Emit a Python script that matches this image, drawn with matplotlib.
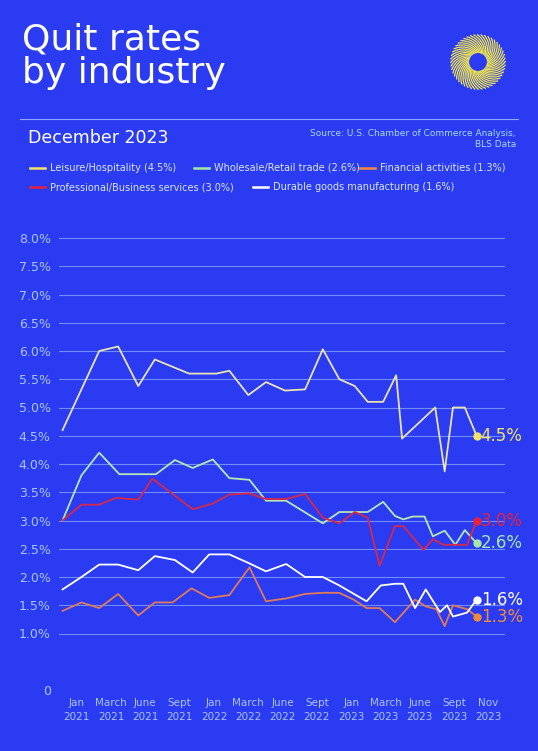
import matplotlib
matplotlib.use("Agg")
import matplotlib.pyplot as plt
import numpy as np

BG = "#2b3bf2"
leisure_x = [0,3.1,4.7,6.4,7.8,10.7,13.0,14.1,15.7,17.2,18.8,20.5,22.0,23.4,24.7,25.8,27.1,28.2,28.7,31.5,32.3,33.0,34.0,35.0]
leisure_y = [4.6,6.0,6.08,5.38,5.85,5.6,5.6,5.65,5.22,5.45,5.3,5.32,6.03,5.5,5.38,5.1,5.1,5.57,4.45,5.0,3.87,5.0,5.0,4.5]
whole_x = [0,1.6,3.1,4.8,7.9,9.5,11.0,12.7,14.1,15.8,17.2,18.9,22.0,23.4,25.8,27.1,28.1,28.8,29.6,30.6,31.3,32.3,33.2,34.0,35]
whole_y = [3.0,3.8,4.2,3.82,3.82,4.07,3.93,4.08,3.75,3.72,3.35,3.35,2.95,3.15,3.15,3.33,3.08,3.02,3.07,3.07,2.72,2.82,2.57,2.83,2.6]
prof_x = [0,1.6,3.1,4.5,6.4,7.6,11.0,12.7,14.1,15.8,17.2,18.9,20.5,22.0,23.4,24.7,25.8,26.8,28.1,28.8,30.5,31.3,32.2,34.2,35]
prof_y = [3.0,3.28,3.28,3.4,3.37,3.74,3.2,3.3,3.46,3.48,3.38,3.38,3.47,3.05,2.95,3.15,3.05,2.2,2.9,2.9,2.48,2.67,2.57,2.57,3.0]
dur_x = [0,1.6,3.1,4.7,6.4,7.8,9.5,11.0,12.4,14.1,15.7,17.2,18.9,20.5,22.0,23.4,25.7,26.9,28.1,28.8,29.8,30.7,31.9,32.5,33.0,34.2,35]
dur_y = [1.78,2.0,2.22,2.22,2.12,2.37,2.3,2.08,2.4,2.4,2.25,2.1,2.23,2.0,2.0,1.85,1.57,1.85,1.88,1.88,1.45,1.78,1.38,1.5,1.3,1.37,1.6]
fin_x = [0,1.6,3.1,4.7,6.4,7.8,9.3,10.9,12.4,14.1,15.8,17.2,18.9,20.5,22.0,23.4,24.6,25.7,26.8,28.1,29.8,30.7,31.6,32.3,33.0,34.2,35]
fin_y = [1.4,1.55,1.45,1.7,1.32,1.55,1.55,1.8,1.63,1.68,2.17,1.57,1.62,1.7,1.72,1.72,1.6,1.45,1.45,1.2,1.6,1.48,1.43,1.13,1.5,1.43,1.3]

tick_labels = ["Jan\n2021","March\n2021","June\n2021","Sept\n2021","Jan\n2022","March\n2022","June\n2022",
               "Sept\n2022","Jan\n2023","March\n2023","June\n2023","Sept\n2023","Nov\n2023"]
yticks = [0,1,1.5,2,2.5,3,3.5,4,4.5,5,5.5,6,6.5,7,7.5,8]

series = [
    ("Leisure/Hospitality (4.5%)", leisure_x, leisure_y, "#f3e36a", "#e9e3b0", "4.5%"),
    ("Wholesale/Retail trade (2.6%)", whole_x, whole_y, "#a6e8a6", "#b5e8b0", "2.6%"),
    ("Financial activities (1.3%)", fin_x, fin_y, "#f08a3c", "#e07a5a", "1.3%"),
    ("Professional/Business services (3.0%)", prof_x, prof_y, "#e8203c", "#d8284a", "3.0%"),
    ("Durable goods manufacturing (1.6%)", dur_x, dur_y, "#ffffff", "#ffffff", "1.6%"),
]

fig = plt.figure(figsize=(5.38, 7.51), dpi=100, facecolor=BG)
ax = fig.add_axes([59/538, 1-690/751, (505-59)/538, (690-226.7)/751])
ax.set_facecolor(BG)
ax.set_xlim(-0.3, 37.4)
ax.set_ylim(0, 8.2)
for y in yticks[1:]:
    ax.axhline(y, color="#6f8df5", lw=0.8, zorder=0)
for name, xs, ys, c, lc, lab in series:
    ax.plot(xs, ys, color=lc, lw=1.3)
    ax.plot(xs[-1], ys[-1], "o", color=c, ms=5)
    ax.text(xs[-1]+0.35, ys[-1], lab, color=c if c != "#ffffff" else "#ffffff",
            fontsize=12, va="center", ha="left")
ax.set_yticks(yticks)
ax.set_yticklabels(["0"] + [f"{v:.1f}%" for v in yticks[1:]], color="#a9c4ff", fontsize=9)
ax.set_xticks(np.linspace(1.2, 36, len(tick_labels)))
ax.set_xticklabels(tick_labels, color="#a9c4ff", fontsize=7.5, linespacing=1.5)
ax.tick_params(length=0, pad=6)
for s in ax.spines.values():
    s.set_visible(False)

fig.text(22/538, 1-22/751, "Quit rates\nby industry", color="white", fontsize=26, va="top",
         ha="left", linespacing=1.0)
fig.add_artist(plt.Line2D([20/538, 518/538], [1-119/751]*2, color="#8fa8ff", lw=0.8))
fig.text(28/538, 1-138/751, "December 2023", color="white", fontsize=12.5, va="center")
fig.text(516/538, 1-139/751, "Source: U.S. Chamber of Commerce Analysis,\nBLS Data", color="#a9d8ff",
         fontsize=6.5, va="center", ha="right", multialignment="right")
# legend rows
rows = [[(series[0], 30), (series[1], 194), (series[2], 360)], [(series[3], 30), (series[4], 253)]]
for ri, row in enumerate(rows):
    yy = 1-(168 + ri*19)/751
    for (s, xp) in row:
        fig.add_artist(plt.Line2D([xp/538, (xp+15)/538], [yy, yy], color=s[3], lw=1.8))
        fig.text((xp+20)/538, yy, s[0], color="#d8e4ff", fontsize=7, va="center")
# logo
lax = fig.add_axes([448/538, 1-92/751, 60/538, 60/751])
lax.set_facecolor(BG); lax.axis("off"); lax.set_xlim(-1.1, 1.1); lax.set_ylim(-1.1, 1.1)
for a in np.linspace(0, 2*np.pi, 48, endpoint=False):
    t = np.linspace(0, 1, 20)
    r = 0.35 + 0.65*t
    th = a + 0.8*t
    lax.plot(r*np.cos(th), r*np.sin(th), color="#f3e84a", lw=0.9)
fig.savefig("out.png", dpi=100, facecolor=BG)
